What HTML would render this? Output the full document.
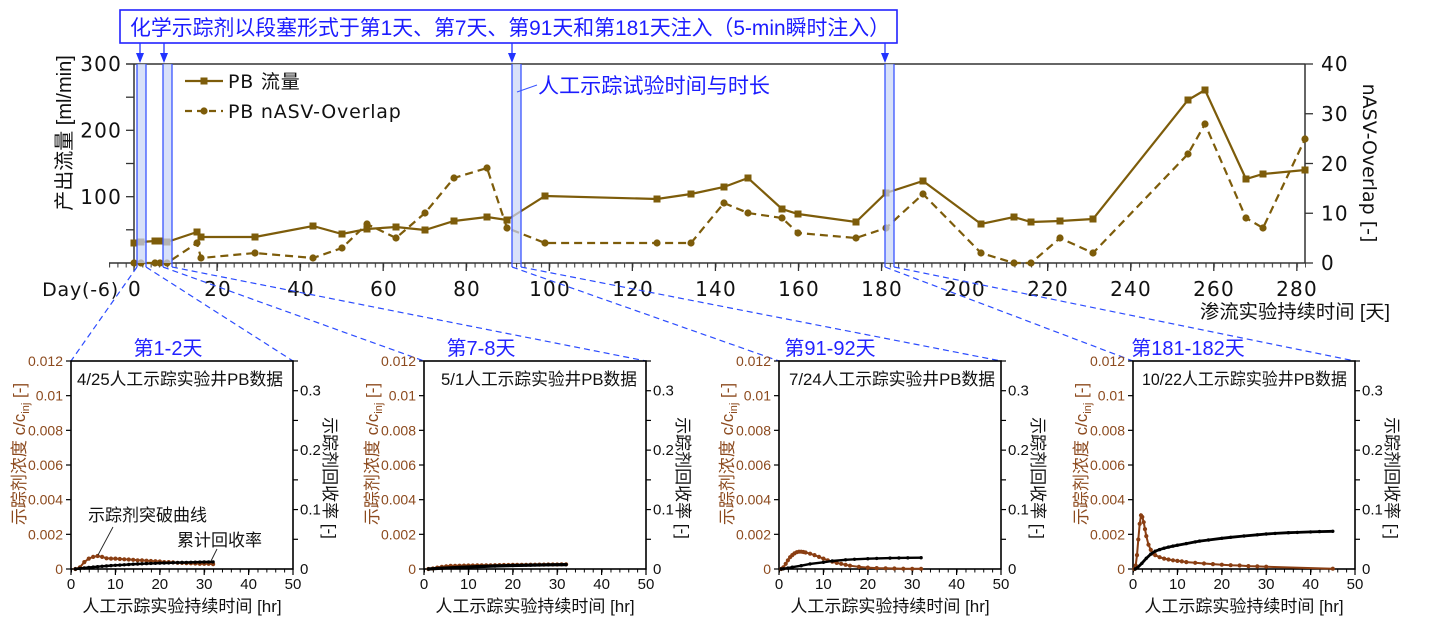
<!DOCTYPE html>
<html><head><meta charset="utf-8"><style>
html,body{margin:0;padding:0;background:#fff;}
svg{display:block;}
.num{font-family:"DejaVu Sans","Liberation Sans",sans-serif;}
.cjk{font-family:"Liberation Sans","Noto Sans CJK SC",sans-serif;}
.sp{font-family:"Liberation Sans","Noto Sans CJK SC",sans-serif;}
</style></head><body>
<svg width="1430" height="629" viewBox="0 0 1430 629" xmlns="http://www.w3.org/2000/svg">
<defs>
<marker id="sq" markerWidth="8" markerHeight="8" refX="4" refY="4" markerUnits="userSpaceOnUse"><rect x="0.5" y="0.5" width="7" height="7" fill="#7d5c0a"/></marker>
<marker id="ci" markerWidth="9" markerHeight="9" refX="4.5" refY="4.5" markerUnits="userSpaceOnUse"><circle cx="4.5" cy="4.5" r="3.6" fill="#7d5c0a"/></marker>
<marker id="br" markerWidth="6" markerHeight="6" refX="3" refY="3" markerUnits="userSpaceOnUse"><circle cx="3" cy="3" r="2.1" fill="#8a3e12"/></marker>
<marker id="bk" markerWidth="5" markerHeight="5" refX="2.5" refY="2.5" markerUnits="userSpaceOnUse"><circle cx="2.5" cy="2.5" r="1.7" fill="#000"/></marker>
<pattern id="xmin" patternUnits="userSpaceOnUse" x="109" y="263" width="8.306" height="6"><line x1="0.6" y1="0" x2="0.6" y2="6" stroke="#333" stroke-width="1"/></pattern>
<pattern id="smin" patternUnits="userSpaceOnUse" x="0" y="569" width="8.88" height="4"><line x1="0.5" y1="0" x2="0.5" y2="4" stroke="#000" stroke-width="1"/></pattern>
</defs>

<!-- ===== Top title box ===== -->
<rect x="120" y="10" width="777" height="33" fill="#fff" stroke="#2222ff" stroke-width="1.6"/>
<text x="130" y="35" class="cjk" font-size="21" fill="#1c1cff" textLength="760" lengthAdjust="spacingAndGlyphs">化学示踪剂以段塞形式于第1天、第7天、第91天和第181天注入（5-min瞬时注入）</text>

<!-- arrows -->
<g stroke="#2233ff" stroke-width="1.3" fill="#2233ff">
<line x1="140" y1="43" x2="140" y2="55"/><polygon points="136,53 144,53 140,63" stroke="none"/>
<line x1="164" y1="43" x2="164" y2="55"/><polygon points="160,53 168,53 164,63" stroke="none"/>
<line x1="512" y1="43" x2="512" y2="55"/><polygon points="508,53 516,53 512,63" stroke="none"/>
<line x1="885" y1="43" x2="885" y2="55"/><polygon points="881,53 889,53 885,63" stroke="none"/>
</g>

<!-- ===== Main chart frame ===== -->
<g stroke="#333" stroke-width="1.5" fill="none">
<line x1="126" y1="64" x2="1305" y2="64"/>
<line x1="134" y1="64" x2="134" y2="263"/>
<line x1="1305" y1="64" x2="1305" y2="263"/>
<line x1="109" y1="263" x2="1305" y2="263"/>
</g>
<rect x="109" y="263" width="1197" height="4.5" fill="url(#xmin)"/>
<g stroke="#333" stroke-width="1.3">
<line x1="134" y1="263" x2="134" y2="271"/><line x1="217.06" y1="263" x2="217.06" y2="271"/><line x1="300.12" y1="263" x2="300.12" y2="271"/><line x1="383.18" y1="263" x2="383.18" y2="271"/><line x1="466.24" y1="263" x2="466.24" y2="271"/><line x1="549.3" y1="263" x2="549.3" y2="271"/><line x1="632.36" y1="263" x2="632.36" y2="271"/><line x1="715.42" y1="263" x2="715.42" y2="271"/><line x1="798.48" y1="263" x2="798.48" y2="271"/><line x1="881.54" y1="263" x2="881.54" y2="271"/><line x1="964.6" y1="263" x2="964.6" y2="271"/><line x1="1047.66" y1="263" x2="1047.66" y2="271"/><line x1="1130.72" y1="263" x2="1130.72" y2="271"/><line x1="1213.78" y1="263" x2="1213.78" y2="271"/><line x1="1296.84" y1="263" x2="1296.84" y2="271"/>
<line x1="126" y1="229.8" x2="134" y2="229.8"/><line x1="126" y1="196.7" x2="134" y2="196.7"/><line x1="126" y1="163.5" x2="134" y2="163.5"/><line x1="126" y1="130.3" x2="134" y2="130.3"/><line x1="126" y1="97.2" x2="134" y2="97.2"/>
<line x1="1305" y1="263" x2="1313" y2="263"/><line x1="1305" y1="213.25" x2="1313" y2="213.25"/><line x1="1305" y1="163.5" x2="1313" y2="163.5"/><line x1="1305" y1="113.75" x2="1313" y2="113.75"/><line x1="1305" y1="64" x2="1313" y2="64"/>
</g>

<!-- tick labels main -->
<g class="num" font-size="20" fill="#111" letter-spacing="1.2">
<text x="122" y="71" text-anchor="end">300</text>
<text x="122" y="137.5" text-anchor="end">200</text>
<text x="122" y="204" text-anchor="end">100</text>
<text x="1321" y="71">40</text>
<text x="1321" y="121">30</text>
<text x="1321" y="171">20</text>
<text x="1321" y="220.5">10</text>
<text x="1321" y="270">0</text>
</g>
<g class="num" font-size="20" fill="#111" letter-spacing="1.2" text-anchor="middle">
<text x="135" y="296">0</text><text x="218" y="296">20</text><text x="301" y="296">40</text><text x="384" y="296">60</text><text x="467" y="296">80</text><text x="550" y="296">100</text><text x="633" y="296">120</text><text x="716" y="296">140</text><text x="799" y="296">160</text><text x="882" y="296">180</text><text x="965" y="296">200</text><text x="1048" y="296">220</text><text x="1131" y="296">240</text><text x="1214" y="296">260</text><text x="1297" y="296">280</text>
</g>
<text x="119" y="296" class="num" font-size="19" fill="#111" text-anchor="end" letter-spacing="0.8">Day(-6)</text>

<!-- axis titles main -->
<text transform="translate(71,133) rotate(-90)" text-anchor="middle" class="cjk" font-size="20" fill="#111">产出流量 [ml/min]</text>
<text transform="translate(1363,163) rotate(90)" text-anchor="middle" class="num" font-size="19" fill="#111">nASV-Overlap [-]</text>
<text x="1200" y="318" class="cjk" font-size="19" fill="#111" textLength="190" lengthAdjust="spacingAndGlyphs">渗流实验持续时间 [天]</text>

<!-- legend -->
<line x1="185" y1="81" x2="223" y2="81" stroke="#7d5c0a" stroke-width="2.2"/>
<rect x="200.5" y="77.5" width="7" height="7" fill="#7d5c0a"/>
<text x="228" y="88" class="num" font-size="19" fill="#111" letter-spacing="0.8">PB <tspan class="cjk">流量</tspan></text>
<line x1="185" y1="111" x2="223" y2="111" stroke="#7d5c0a" stroke-width="2.2" stroke-dasharray="7,5"/>
<circle cx="204" cy="111" r="3.6" fill="#7d5c0a"/>
<text x="228" y="118" class="num" font-size="19" fill="#111" letter-spacing="0.8">PB nASV-Overlap</text>

<!-- data series -->
<polyline fill="none" stroke="#7d5c0a" stroke-width="2.2" stroke-dasharray="8,5" marker-start="url(#ci)" marker-mid="url(#ci)" marker-end="url(#ci)"
points="134,263 141,263 155,263 160,263 167,263 197,243 201,258 255,253 313,258 342,248 367,224 396,238 425,213 454,178 487,168 507,228 545,243 657,243 691,243 724,203 748,213 782,218 798,233 856,238 886,228 923,194 981,253 1014,263 1031,263 1060,238 1093,253 1188,154 1205,124 1246,218 1263,228 1305,139"/>
<polyline fill="none" stroke="#7d5c0a" stroke-width="2.2" marker-start="url(#sq)" marker-mid="url(#sq)" marker-end="url(#sq)"
points="134,243 141,242 155,241 160,241 167,242 197,232 201,237 255,237 313,226 342,234 367,229 396,227 425,230 454,221 487,217 507,220 545,196 657,199 691,194 724,187 748,178 782,209 798,214 856,222 886,193 923,181 981,224 1014,217 1031,222 1060,221 1093,219 1188,100 1205,90 1246,179 1263,174 1305,170"/>

<!-- bands -->
<g fill="#c9d6f6" fill-opacity="0.72">
<rect x="137" y="64" width="9" height="199"/>
<rect x="163" y="64" width="9" height="199"/>
<rect x="512" y="64" width="9" height="199"/>
<rect x="885" y="64" width="9" height="199"/>
</g>
<g stroke="#3a55ff" stroke-width="1.3">
<line x1="137" y1="64" x2="137" y2="267"/><line x1="146" y1="64" x2="146" y2="267"/>
<line x1="163" y1="64" x2="163" y2="267"/><line x1="172" y1="64" x2="172" y2="267"/>
<line x1="512" y1="64" x2="512" y2="267"/><line x1="521" y1="64" x2="521" y2="267"/>
<line x1="885" y1="64" x2="885" y2="267"/><line x1="894" y1="64" x2="894" y2="267"/>
</g>

<!-- annotation -->
<line x1="517" y1="92" x2="537" y2="85" stroke="#3a55ff" stroke-width="1"/>
<text x="538" y="93" class="cjk" font-size="21" fill="#1c1cff" textLength="232" lengthAdjust="spacingAndGlyphs">人工示踪试验时间与时长</text>

<!-- connector dashed lines -->
<g stroke="#2c4cff" stroke-width="1.2" stroke-dasharray="6,4" fill="none">
<line x1="137" y1="267" x2="71" y2="361"/><line x1="146" y1="267" x2="293" y2="361"/>
<line x1="163" y1="267" x2="424" y2="361"/><line x1="172" y1="267" x2="646" y2="361"/>
<line x1="512" y1="267" x2="779" y2="361"/><line x1="521" y1="267" x2="1001" y2="361"/>
<line x1="885" y1="267" x2="1133" y2="361"/><line x1="894" y1="267" x2="1355" y2="361"/>
</g>

<!-- Subplot 1 -->
<g transform="translate(71,0)">
<rect x="0" y="361" width="222" height="208" fill="none" stroke="#000" stroke-width="1.6"/>
<rect x="0" y="569" width="222" height="3.5" fill="url(#smin)"/>
<g stroke="#000" stroke-width="1.2">
<line x1="0" y1="569" x2="0" y2="575"/><line x1="44.4" y1="569" x2="44.4" y2="575"/><line x1="88.8" y1="569" x2="88.8" y2="575"/><line x1="133.2" y1="569" x2="133.2" y2="575"/><line x1="177.6" y1="569" x2="177.6" y2="575"/><line x1="222" y1="569" x2="222" y2="575"/>
<line x1="-5" y1="534.33" x2="0" y2="534.33"/><line x1="-5" y1="499.67" x2="0" y2="499.67"/><line x1="-5" y1="465" x2="0" y2="465"/><line x1="-5" y1="430.33" x2="0" y2="430.33"/><line x1="-5" y1="395.67" x2="0" y2="395.67"/><line x1="-5" y1="361" x2="0" y2="361"/><line x1="-5" y1="569" x2="0" y2="569"/>
<line x1="222" y1="539.29" x2="227" y2="539.29"/><line x1="222" y1="509.57" x2="227" y2="509.57"/><line x1="222" y1="479.86" x2="227" y2="479.86"/><line x1="222" y1="450.14" x2="227" y2="450.14"/><line x1="222" y1="420.43" x2="227" y2="420.43"/><line x1="222" y1="390.71" x2="227" y2="390.71"/><line x1="222" y1="361" x2="227" y2="361"/>
</g>
<g class="sp" font-size="14" fill="#8c4a1e" text-anchor="end">
<text x="-8" y="574">0</text><text x="-8" y="539.3">0.002</text><text x="-8" y="504.7">0.004</text><text x="-8" y="470">0.006</text><text x="-8" y="435.3">0.008</text><text x="-8" y="400.7">0.01</text><text x="-8" y="366">0.012</text>
</g>
<g class="sp" font-size="15" fill="#111">
<text x="229" y="574">0</text><text x="229" y="514.6">0.1</text><text x="229" y="455.1">0.2</text><text x="229" y="395.7">0.3</text>
</g>
<g class="sp" font-size="15" fill="#111" text-anchor="middle">
<text x="0" y="589">0</text><text x="44.4" y="589">10</text><text x="88.8" y="589">20</text><text x="133.2" y="589">30</text><text x="177.6" y="589">40</text><text x="222" y="589">50</text>
</g>
<text x="111" y="612" class="sp" font-size="17" fill="#111" text-anchor="middle">人工示踪实验持续时间 [hr]</text>
<text transform="translate(-46,454) rotate(-90)" class="sp" font-size="17" fill="#8c4a1e" text-anchor="middle">示踪剂浓度  c/c<tspan font-size="11" dy="4">inj</tspan><tspan dy="-4"> [-]</tspan></text>
<text transform="translate(253,478) rotate(90)" class="sp" font-size="17" fill="#111" text-anchor="middle">示踪剂回收率 [-]</text>
<text x="6" y="385" class="sp" font-size="17" fill="#111" textLength="206" lengthAdjust="spacingAndGlyphs">4/25人工示踪实验井PB数据</text>
<text x="97" y="355" class="sp" font-size="20" fill="#2222ff" text-anchor="middle">第1-2天</text>
<polyline fill="none" stroke="#8a3e12" stroke-width="2" marker-start="url(#br)" marker-mid="url(#br)" marker-end="url(#br)"
points="4.4,569 8.9,567.3 13.3,562.1 17.8,558.6 22.2,556.9 26.6,556 31.1,556.9 35.5,558.3 40,558.6 44.4,558.6 48.8,559 53.3,559.3 57.7,559.5 62.2,559.8 66.6,560.3 71,560.3 75.5,560.7 79.9,561 84.4,561.2 88.8,561.5 93.2,562.1 97.7,562.1 102.1,562.4 106.6,562.8 111,562.9 115.4,563.1 119.9,563.3 124.3,563.5 128.8,563.8 133.2,563.8 137.6,563.8 142.1,564.1"/>
<polyline fill="none" stroke="#000" stroke-width="2.4" marker-start="url(#bk)" marker-mid="url(#bk)" marker-end="url(#bk)"
points="4.4,569 8.9,568.5 13.3,568 17.8,567.5 22.2,567.1 26.6,566.7 31.1,566.3 35.5,566 40,565.6 44.4,565.3 48.8,565.1 53.3,564.8 57.7,564.5 62.2,564.2 66.6,564 71,563.8 75.5,563.6 79.9,563.4 84.4,563.3 88.8,563.1 93.2,563 97.7,562.9 102.1,562.7 106.6,562.6 111,562.5 115.4,562.4 119.9,562.3 124.3,562.2 128.8,562.1 133.2,562 137.6,561.95 142.1,561.9"/>
<text x="17" y="521" class="sp" font-size="17" fill="#111">示踪剂突破曲线</text>
<line x1="42" y1="527" x2="27" y2="555" stroke="#222" stroke-width="0.9"/>
<text x="106" y="546" class="sp" font-size="17" fill="#111">累计回收率</text>
<line x1="146" y1="549" x2="140" y2="561" stroke="#222" stroke-width="0.9"/>
</g>

<!-- Subplot 2 -->
<g transform="translate(424,0)">
<rect x="0" y="361" width="222" height="208" fill="none" stroke="#000" stroke-width="1.6"/>
<rect x="0" y="569" width="222" height="3.5" fill="url(#smin)"/>
<g stroke="#000" stroke-width="1.2">
<line x1="0" y1="569" x2="0" y2="575"/><line x1="44.4" y1="569" x2="44.4" y2="575"/><line x1="88.8" y1="569" x2="88.8" y2="575"/><line x1="133.2" y1="569" x2="133.2" y2="575"/><line x1="177.6" y1="569" x2="177.6" y2="575"/><line x1="222" y1="569" x2="222" y2="575"/>
<line x1="-5" y1="534.33" x2="0" y2="534.33"/><line x1="-5" y1="499.67" x2="0" y2="499.67"/><line x1="-5" y1="465" x2="0" y2="465"/><line x1="-5" y1="430.33" x2="0" y2="430.33"/><line x1="-5" y1="395.67" x2="0" y2="395.67"/><line x1="-5" y1="361" x2="0" y2="361"/><line x1="-5" y1="569" x2="0" y2="569"/>
<line x1="222" y1="539.29" x2="227" y2="539.29"/><line x1="222" y1="509.57" x2="227" y2="509.57"/><line x1="222" y1="479.86" x2="227" y2="479.86"/><line x1="222" y1="450.14" x2="227" y2="450.14"/><line x1="222" y1="420.43" x2="227" y2="420.43"/><line x1="222" y1="390.71" x2="227" y2="390.71"/><line x1="222" y1="361" x2="227" y2="361"/>
</g>
<g class="sp" font-size="14" fill="#8c4a1e" text-anchor="end">
<text x="-8" y="574">0</text><text x="-8" y="539.3">0.002</text><text x="-8" y="504.7">0.004</text><text x="-8" y="470">0.006</text><text x="-8" y="435.3">0.008</text><text x="-8" y="400.7">0.01</text><text x="-8" y="366">0.012</text>
</g>
<g class="sp" font-size="15" fill="#111">
<text x="229" y="574">0</text><text x="229" y="514.6">0.1</text><text x="229" y="455.1">0.2</text><text x="229" y="395.7">0.3</text>
</g>
<g class="sp" font-size="15" fill="#111" text-anchor="middle">
<text x="0" y="589">0</text><text x="44.4" y="589">10</text><text x="88.8" y="589">20</text><text x="133.2" y="589">30</text><text x="177.6" y="589">40</text><text x="222" y="589">50</text>
</g>
<text x="111" y="612" class="sp" font-size="17" fill="#111" text-anchor="middle">人工示踪实验持续时间 [hr]</text>
<text transform="translate(-46,454) rotate(-90)" class="sp" font-size="17" fill="#8c4a1e" text-anchor="middle">示踪剂浓度  c/c<tspan font-size="11" dy="4">inj</tspan><tspan dy="-4"> [-]</tspan></text>
<text transform="translate(253,478) rotate(90)" class="sp" font-size="17" fill="#111" text-anchor="middle">示踪剂回收率 [-]</text>
<text x="17" y="385" class="sp" font-size="17" fill="#111" textLength="196" lengthAdjust="spacingAndGlyphs">5/1人工示踪实验井PB数据</text>
<text x="57" y="355" class="sp" font-size="20" fill="#2222ff" text-anchor="middle">第7-8天</text>
<polyline fill="none" stroke="#8a3e12" stroke-width="2.2" marker-start="url(#br)" marker-mid="url(#br)" marker-end="url(#br)"
points="4.4,569 8.9,568.5 13.3,567.6 17.8,566.9 22.2,566.4 26.6,565.9 31.1,565.8 35.5,565.7 40,565.6 44.4,565.5 48.8,565.5 53.3,565.4 57.7,565.4 62.2,565.3 66.6,565.3 71,565.2 75.5,565.1 79.9,565 84.4,565 88.8,564.9 93.2,564.9 97.7,564.8 102.1,564.8 106.6,564.7 111,564.7 115.4,564.6 119.9,564.6 124.3,564.5 128.8,564.5 133.2,564.5 137.6,564.4 142.1,564.4"/>
<polyline fill="none" stroke="#000" stroke-width="3.2" marker-start="url(#bk)" marker-mid="url(#bk)" marker-end="url(#bk)"
points="4.4,569 17.8,568.2 35.5,567.3 53.3,566.6 71,566 88.8,565.5 106.6,565.1 124.3,564.8 142.1,564.6"/>
</g>

<!-- Subplot 3 -->
<g transform="translate(779,0)">
<rect x="0" y="361" width="222" height="208" fill="none" stroke="#000" stroke-width="1.6"/>
<rect x="0" y="569" width="222" height="3.5" fill="url(#smin)"/>
<g stroke="#000" stroke-width="1.2">
<line x1="0" y1="569" x2="0" y2="575"/><line x1="44.4" y1="569" x2="44.4" y2="575"/><line x1="88.8" y1="569" x2="88.8" y2="575"/><line x1="133.2" y1="569" x2="133.2" y2="575"/><line x1="177.6" y1="569" x2="177.6" y2="575"/><line x1="222" y1="569" x2="222" y2="575"/>
<line x1="-5" y1="534.33" x2="0" y2="534.33"/><line x1="-5" y1="499.67" x2="0" y2="499.67"/><line x1="-5" y1="465" x2="0" y2="465"/><line x1="-5" y1="430.33" x2="0" y2="430.33"/><line x1="-5" y1="395.67" x2="0" y2="395.67"/><line x1="-5" y1="361" x2="0" y2="361"/><line x1="-5" y1="569" x2="0" y2="569"/>
<line x1="222" y1="539.29" x2="227" y2="539.29"/><line x1="222" y1="509.57" x2="227" y2="509.57"/><line x1="222" y1="479.86" x2="227" y2="479.86"/><line x1="222" y1="450.14" x2="227" y2="450.14"/><line x1="222" y1="420.43" x2="227" y2="420.43"/><line x1="222" y1="390.71" x2="227" y2="390.71"/><line x1="222" y1="361" x2="227" y2="361"/>
</g>
<g class="sp" font-size="14" fill="#8c4a1e" text-anchor="end">
<text x="-8" y="574">0</text><text x="-8" y="539.3">0.002</text><text x="-8" y="504.7">0.004</text><text x="-8" y="470">0.006</text><text x="-8" y="435.3">0.008</text><text x="-8" y="400.7">0.01</text><text x="-8" y="366">0.012</text>
</g>
<g class="sp" font-size="15" fill="#111">
<text x="229" y="574">0</text><text x="229" y="514.6">0.1</text><text x="229" y="455.1">0.2</text><text x="229" y="395.7">0.3</text>
</g>
<g class="sp" font-size="15" fill="#111" text-anchor="middle">
<text x="0" y="589">0</text><text x="44.4" y="589">10</text><text x="88.8" y="589">20</text><text x="133.2" y="589">30</text><text x="177.6" y="589">40</text><text x="222" y="589">50</text>
</g>
<text x="111" y="612" class="sp" font-size="17" fill="#111" text-anchor="middle">人工示踪实验持续时间 [hr]</text>
<text transform="translate(-46,454) rotate(-90)" class="sp" font-size="17" fill="#8c4a1e" text-anchor="middle">示踪剂浓度  c/c<tspan font-size="11" dy="4">inj</tspan><tspan dy="-4"> [-]</tspan></text>
<text transform="translate(253,478) rotate(90)" class="sp" font-size="17" fill="#111" text-anchor="middle">示踪剂回收率 [-]</text>
<text x="10" y="385" class="sp" font-size="17" fill="#111" textLength="206" lengthAdjust="spacingAndGlyphs">7/24人工示踪实验井PB数据</text>
<text x="51" y="355" class="sp" font-size="20" fill="#2222ff" text-anchor="middle">第91-92天</text>
<polyline fill="none" stroke="#8a3e12" stroke-width="2" marker-start="url(#br)" marker-mid="url(#br)" marker-end="url(#br)"
points="2.2,569 4.4,567.3 6.7,563.8 8.9,560.3 11.1,557.2 13.3,555.1 15.5,553.4 17.8,552.2 20,551.7 22.2,551.7 24.4,552 26.6,552.5 31.1,553.7 35.5,555.1 40,556.9 44.4,558.6 48.8,560.3 53.3,561.7 57.7,562.9 62.2,563.8 66.6,564.8 71,565.7 79.9,566.9 88.8,567.6 97.7,568.1 106.6,568.3 115.4,568.5 124.3,568.7 133.2,568.8 142.1,568.8"/>
<polyline fill="none" stroke="#000" stroke-width="2.4" marker-start="url(#bk)" marker-mid="url(#bk)" marker-end="url(#bk)"
points="2.2,569 4.4,568.8 8.9,568.1 13.3,567.2 22.2,565.7 31.1,563.9 44.4,562.3 53.3,561 66.6,559.8 75.5,559.3 88.8,558.7 97.7,558.4 111,558.1 119.9,557.95 128.8,557.85 142.1,557.7"/>
</g>

<!-- Subplot 4 -->
<g transform="translate(1133,0)">
<rect x="0" y="361" width="222" height="208" fill="none" stroke="#000" stroke-width="1.6"/>
<rect x="0" y="569" width="222" height="3.5" fill="url(#smin)"/>
<g stroke="#000" stroke-width="1.2">
<line x1="0" y1="569" x2="0" y2="575"/><line x1="44.4" y1="569" x2="44.4" y2="575"/><line x1="88.8" y1="569" x2="88.8" y2="575"/><line x1="133.2" y1="569" x2="133.2" y2="575"/><line x1="177.6" y1="569" x2="177.6" y2="575"/><line x1="222" y1="569" x2="222" y2="575"/>
<line x1="-5" y1="534.33" x2="0" y2="534.33"/><line x1="-5" y1="499.67" x2="0" y2="499.67"/><line x1="-5" y1="465" x2="0" y2="465"/><line x1="-5" y1="430.33" x2="0" y2="430.33"/><line x1="-5" y1="395.67" x2="0" y2="395.67"/><line x1="-5" y1="361" x2="0" y2="361"/><line x1="-5" y1="569" x2="0" y2="569"/>
<line x1="222" y1="539.29" x2="227" y2="539.29"/><line x1="222" y1="509.57" x2="227" y2="509.57"/><line x1="222" y1="479.86" x2="227" y2="479.86"/><line x1="222" y1="450.14" x2="227" y2="450.14"/><line x1="222" y1="420.43" x2="227" y2="420.43"/><line x1="222" y1="390.71" x2="227" y2="390.71"/><line x1="222" y1="361" x2="227" y2="361"/>
</g>
<g class="sp" font-size="14" fill="#8c4a1e" text-anchor="end">
<text x="-8" y="574">0</text><text x="-8" y="539.3">0.002</text><text x="-8" y="504.7">0.004</text><text x="-8" y="470">0.006</text><text x="-8" y="435.3">0.008</text><text x="-8" y="400.7">0.01</text><text x="-8" y="366">0.012</text>
</g>
<g class="sp" font-size="15" fill="#111">
<text x="229" y="574">0</text><text x="229" y="514.6">0.1</text><text x="229" y="455.1">0.2</text><text x="229" y="395.7">0.3</text>
</g>
<g class="sp" font-size="15" fill="#111" text-anchor="middle">
<text x="0" y="589">0</text><text x="44.4" y="589">10</text><text x="88.8" y="589">20</text><text x="133.2" y="589">30</text><text x="177.6" y="589">40</text><text x="222" y="589">50</text>
</g>
<text x="111" y="612" class="sp" font-size="17" fill="#111" text-anchor="middle">人工示踪实验持续时间 [hr]</text>
<text transform="translate(-46,454) rotate(-90)" class="sp" font-size="17" fill="#8c4a1e" text-anchor="middle">示踪剂浓度  c/c<tspan font-size="11" dy="4">inj</tspan><tspan dy="-4"> [-]</tspan></text>
<text transform="translate(253,478) rotate(90)" class="sp" font-size="17" fill="#111" text-anchor="middle">示踪剂回收率 [-]</text>
<text x="9" y="385" class="sp" font-size="17" fill="#111" textLength="205" lengthAdjust="spacingAndGlyphs">10/22人工示踪实验井PB数据</text>
<text x="55" y="355" class="sp" font-size="20" fill="#2222ff" text-anchor="middle">第181-182天</text>
<polyline fill="none" stroke="#8a3e12" stroke-width="2" marker-start="url(#br)" marker-mid="url(#br)" marker-end="url(#br)"
points="1.3,569 2.7,565.5 4,555.1 5.3,539.5 6.7,523.9 8,515.3 9.3,517 10.7,522.2 12,529.1 13.3,536.1 15.5,544.7 17.8,549.9 20,553.4 22.2,555.1 26.6,557.2 31.1,558.6 35.5,559.5 40,560.3 44.4,560.9 48.8,561.4 53.3,562.1 62.2,562.8 71,563.5 79.9,564.1 88.8,564.7 97.7,565.2 106.6,565.5 115.4,566.1 124.3,566.4 133.2,566.7 199.8,568.7"/>
<polyline fill="none" stroke="#000" stroke-width="2.8" marker-start="url(#bk)" marker-mid="url(#bk)" marker-end="url(#bk)"
points="2.2,569 4.4,567.8 8.9,563.3 13.3,558.3 17.8,554.1 22.2,551.2 26.6,549.6 31.1,548.2 35.5,547.1 40,546.1 44.4,545.2 53.3,543.6 62.2,541.9 66.6,541.1 75.5,540 88.8,538.3 97.7,537.3 111,536 124.3,534.8 133.2,534 142.1,533.4 155.4,532.7 164.3,532.4 177.6,531.9 186.5,531.6 199.8,531.3"/>
</g>
</svg>
</body></html>
